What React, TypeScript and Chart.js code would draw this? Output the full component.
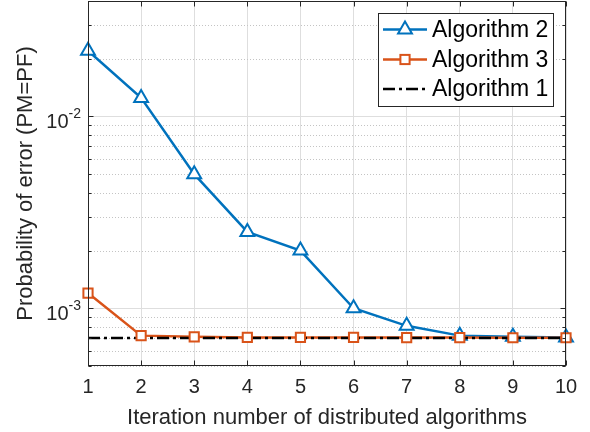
import React, { useEffect, useRef } from "react";
import { Chart, registerables } from "chart.js";

Chart.register(...registerables);

// ---------- data ----------
const ITERATIONS = [1, 2, 3, 4, 5, 6, 7, 8, 9, 10];
const ALG2 = [0.022, 0.0125, 0.005, 0.0025, 0.002, 0.001, 0.00081, 0.00072, 0.00071, 0.000705];
const ALG3 = [0.0012, 0.00072, 0.00071, 0.000705, 0.000705, 0.000705, 0.000703, 0.000703, 0.000702, 0.000702];
const ALG1 = [0.0007, 0.0007, 0.0007, 0.0007, 0.0007, 0.0007, 0.0007, 0.0007, 0.0007, 0.0007];

const X_MIN = 1;
const X_MAX = 10;
const Y_MIN = 5e-4;
const Y_MAX = 4e-2;
const Y_MAJOR = [1e-3, 1e-2];
const Y_MAJOR_EXP = ["-3", "-2"];
const Y_MINOR = [5e-4, 6e-4, 7e-4, 8e-4, 9e-4, 2e-3, 3e-3, 4e-3, 5e-3, 6e-3, 7e-3, 8e-3, 9e-3, 2e-2, 3e-2, 4e-2];

const LEGEND_LABELS = ["Algorithm 2", "Algorithm 3", "Algorithm 1"];
const X_TITLE = "Iteration number of distributed algorithms";
const Y_TITLE = "Probability of error (PM=PF)";

// ---------- styles ----------
const BLUE = "#0072BD";
const ORANGE = "#D95319";
const BLACK = "#000000";
const AXIS = "#262626";
const FONT = "'Liberation Sans', Arial, Helvetica, sans-serif";
const DASHDOT = [12, 4, 3, 4];
const LW = 2.5;

function drawTriangle(ctx: CanvasRenderingContext2D, x: number, y: number, r: number) {
  ctx.beginPath();
  for (let i = 0; i < 3; i++) {
    const a = (i * 2 * Math.PI) / 3;
    const px = x + Math.sin(a) * r;
    const py = y - Math.cos(a) * r;
    if (i === 0) ctx.moveTo(px, py);
    else ctx.lineTo(px, py);
  }
  ctx.closePath();
}

const matlabPlugin = {
  id: "matlabDecor",
  beforeDatasetsDraw(chart: any) {
    const { ctx, chartArea } = chart;
    const ys = chart.scales.y;
    ctx.save();
    ctx.strokeStyle = "#c4c4c4";
    ctx.lineWidth = 1;
    ctx.setLineDash([1, 2]);
    Y_MINOR.forEach((v) => {
      const y = Math.round(ys.getPixelForValue(v)) + 0.5;
      ctx.beginPath();
      ctx.moveTo(chartArea.left, y);
      ctx.lineTo(chartArea.right, y);
      ctx.stroke();
    });
    ctx.setLineDash([]);
    ctx.strokeStyle = "#dedede";
    Y_MAJOR.forEach((v) => {
      const y = Math.round(ys.getPixelForValue(v)) + 0.5;
      ctx.beginPath();
      ctx.moveTo(chartArea.left, y);
      ctx.lineTo(chartArea.right, y);
      ctx.stroke();
    });
    ctx.restore();
  },
  afterDatasetsDraw(chart: any) {
    const { ctx, chartArea } = chart;
    const xs = chart.scales.x;
    const ys = chart.scales.y;
    const L = Math.round(chartArea.left) + 0.5;
    const R = Math.round(chartArea.right) - 0.5;
    const T = Math.round(chartArea.top) + 0.5;
    const B = Math.round(chartArea.bottom) - 0.5;
    ctx.save();
    ctx.strokeStyle = AXIS;
    ctx.lineWidth = 1;
    ctx.setLineDash([]);
    ctx.strokeRect(L, T, R - L, B - T);
    ITERATIONS.forEach((v) => {
      const x = Math.round(xs.getPixelForValue(v)) + 0.5;
      ctx.beginPath();
      ctx.moveTo(x, B);
      ctx.lineTo(x, B - 5);
      ctx.moveTo(x, T);
      ctx.lineTo(x, T + 5);
      ctx.stroke();
    });
    const tick = (v: number, len: number) => {
      const y = Math.round(ys.getPixelForValue(v)) + 0.5;
      ctx.beginPath();
      ctx.moveTo(L, y);
      ctx.lineTo(L + len, y);
      ctx.moveTo(R, y);
      ctx.lineTo(R - len, y);
      ctx.stroke();
    };
    Y_MINOR.forEach((v) => tick(v, 3));
    Y_MAJOR.forEach((v) => tick(v, 5));
    ctx.fillStyle = AXIS;
    ctx.textBaseline = "alphabetic";
    ctx.textAlign = "left";
    Y_MAJOR.forEach((v, i) => {
      const y = ys.getPixelForValue(v);
      ctx.font = `20px ${FONT}`;
      const wBase = ctx.measureText("10").width;
      ctx.font = `14px ${FONT}`;
      const wExp = ctx.measureText(Y_MAJOR_EXP[i]).width;
      const right = chartArea.left - 7;
      const x0 = right - wBase - wExp;
      ctx.font = `20px ${FONT}`;
      ctx.fillText("10", x0, y + 11.3);
      ctx.font = `14px ${FONT}`;
      ctx.fillText(Y_MAJOR_EXP[i], x0 + wBase, y + 1.3);
    });
    // legend
    const lx = 378.5, ly = 13.5, lw = 175, lh = 93;
    ctx.fillStyle = "#ffffff";
    ctx.fillRect(lx, ly, lw, lh);
    ctx.strokeStyle = AXIS;
    ctx.lineWidth = 1;
    ctx.strokeRect(lx, ly, lw, lh);
    const rows = [29.5, 59.5, 89];
    const x1 = 383, x2 = 427, xm = 405;
    ctx.lineWidth = LW;
    ctx.strokeStyle = BLUE;
    ctx.beginPath();
    ctx.moveTo(x1, rows[0]);
    ctx.lineTo(x2, rows[0]);
    ctx.stroke();
    ctx.lineWidth = 2;
    drawTriangle(ctx, xm, rows[0], 8);
    ctx.fillStyle = "#ffffff";
    ctx.fill();
    ctx.stroke();
    ctx.lineWidth = LW;
    ctx.strokeStyle = ORANGE;
    ctx.beginPath();
    ctx.moveTo(x1, rows[1]);
    ctx.lineTo(x2, rows[1]);
    ctx.stroke();
    ctx.lineWidth = 2;
    const s = 4.6;
    ctx.fillRect(xm - s, rows[1] - s, 2 * s, 2 * s);
    ctx.strokeRect(xm - s, rows[1] - s, 2 * s, 2 * s);
    ctx.lineWidth = LW;
    ctx.strokeStyle = BLACK;
    ctx.setLineDash(DASHDOT);
    ctx.beginPath();
    ctx.moveTo(x1, rows[2]);
    ctx.lineTo(x2, rows[2]);
    ctx.stroke();
    ctx.setLineDash([]);
    ctx.fillStyle = "#000000";
    ctx.font = `23px ${FONT}`;
    ctx.textBaseline = "middle";
    LEGEND_LABELS.forEach((t, i) => ctx.fillText(t, 432, rows[i] + 1));
    ctx.restore();
  },
};

export default function App() {
  const ref = useRef<HTMLCanvasElement | null>(null);
  useEffect(() => {
    if (!ref.current) return;
    const chart = new Chart(ref.current, {
      type: "line",
      data: {
        labels: ITERATIONS,
        datasets: [
          {
            label: LEGEND_LABELS[0],
            data: ITERATIONS.map((x, i) => ({ x, y: ALG2[i] })),
            borderColor: BLUE,
            backgroundColor: "#ffffff",
            borderWidth: LW,
            pointStyle: "triangle",
            pointRadius: 8,
            pointBorderWidth: 2,
            pointBackgroundColor: "#ffffff",
            pointBorderColor: BLUE,
            tension: 0,
            clip: false as any,
            order: 4,
          },
          {
            label: LEGEND_LABELS[1],
            data: ITERATIONS.map((x, i) => ({ x, y: ALG3[i] })),
            borderColor: ORANGE,
            borderWidth: LW,
            pointRadius: 0,
            tension: 0,
            clip: false as any,
            order: 3,
          },
          {
            label: LEGEND_LABELS[2],
            data: ITERATIONS.map((x, i) => ({ x, y: ALG1[i] })),
            borderColor: BLACK,
            borderWidth: LW,
            borderDash: DASHDOT,
            pointRadius: 0,
            tension: 0,
            clip: false as any,
            order: 2,
          },
          {
            label: LEGEND_LABELS[1] + " markers",
            data: ITERATIONS.map((x, i) => ({ x, y: ALG3[i] })),
            showLine: false,
            pointStyle: "rect",
            pointRadius: 6.5,
            pointBorderWidth: 2,
            pointBackgroundColor: "#ffffff",
            pointBorderColor: ORANGE,
            clip: false as any,
            order: 1,
          },
        ],
      },
      options: {
        animation: false,
        responsive: false,
        devicePixelRatio: 1,
        events: [],
        layout: { autoPadding: false, padding: { left: 0, right: 24, top: 1, bottom: 0 } },
        plugins: { legend: { display: false }, tooltip: { enabled: false } },
        scales: {
          x: {
            type: "linear",
            min: X_MIN,
            max: X_MAX,
            afterFit: (s: any) => {
              s.height = 66;
            },
            ticks: {
              stepSize: 1,
              autoSkip: false,
              maxRotation: 0,
              padding: 9,
              color: AXIS,
              font: { family: FONT, size: 20 },
            },
            grid: { color: "#dedede", lineWidth: 1, drawTicks: false },
            border: { display: false },
            title: {
              display: true,
              text: X_TITLE,
              color: AXIS,
              font: { family: FONT, size: 22 },
              padding: { top: 0, bottom: 1 },
            },
          },
          y: {
            type: "logarithmic",
            min: Y_MIN,
            max: Y_MAX,
            afterFit: (s: any) => {
              s.width = 88;
            },
            ticks: { display: false },
            grid: { display: false },
            border: { display: false },
            title: {
              display: true,
              text: Y_TITLE,
              color: AXIS,
              font: { family: FONT, size: 22 },
              padding: { top: 12.7, bottom: 0 },
            },
          },
        },
      },
      plugins: [matlabPlugin],
    } as any);
    return () => chart.destroy();
  }, []);
  return (
    <div style={{ position: "absolute", left: 0, top: 0, width: 590, height: 432, background: "#fff" }}>
      <canvas ref={ref} width={590} height={432} style={{ display: "block", width: 590, height: 432 }} />
    </div>
  );
}
